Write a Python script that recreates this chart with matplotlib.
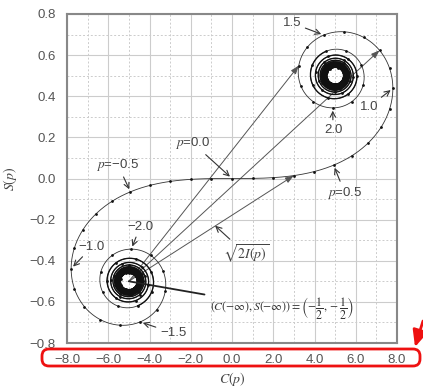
import numpy as np
import matplotlib
matplotlib.use("Agg")
import matplotlib.pyplot as plt
from matplotlib.patches import FancyBboxPatch, FancyArrowPatch
from matplotlib.transforms import IdentityTransform

plt.rcParams['mathtext.fontset'] = 'stix'
plt.rcParams['font.family'] = ['Liberation Sans', 'DejaVu Sans']

# Cornu spiral parameters
p_max = 8.0
p_step = 1e-4
dot_every = 0.1
p_dense = 2.5  # beyond this the turns crowd into the limit points

# points that get a chord from (C(-inf), S(-inf))
chord_p = [0.3, 1.2, 1.7]

# labelled parameter values
label_p = [0.0, -0.5, 0.5, 1.0, 1.5, 2.0, -1.0, -1.5, -2.0]
label_txt = ['$p$=0.0', '$p$=\u22120.5', '$p$=0.5', '1.0', '1.5', '2.0',
             '\u22121.0', '\u22121.5', '\u22122.0']
label_pos = [(-0.19, 0.173), (-0.553, 0.066), (0.548, -0.072), (0.664, 0.348),
             (0.291, 0.756), (0.490, 0.236), (-0.679, -0.333), (-0.286, -0.751),
             (-0.446, -0.236)]

x_ticks = [-0.8, -0.6, -0.4, -0.2, 0.0, 0.2, 0.4, 0.6, 0.8]
x_tick_labels = ['\u22128.0', '\u22126.0', '\u22124.0', '\u22122.0', '0.0',
                 '2.0', '4.0', '6.0', '8.0']
y_ticks = [-0.8, -0.6, -0.4, -0.2, 0.0, 0.2, 0.4, 0.6, 0.8]
y_tick_labels = ['\u22120.8', '\u22120.6', '\u22120.4', '\u22120.2', '0.0',
                 '0.2', '0.4', '0.6', '0.8']


def fresnel_cs(pmax, dp):
    t = np.arange(0, pmax + dp / 2, dp)
    fc = np.cos(np.pi * t ** 2 / 2)
    fs = np.sin(np.pi * t ** 2 / 2)
    c = np.concatenate([[0], np.cumsum((fc[1:] + fc[:-1]) / 2 * dp)])
    s = np.concatenate([[0], np.cumsum((fs[1:] + fs[:-1]) / 2 * dp)])
    return t, c, s


t, c, s = fresnel_cs(p_max, p_step)
p_all = np.concatenate([-t[::-1], t[1:]])
C = np.concatenate([-c[::-1], c[1:]])
S = np.concatenate([-s[::-1], s[1:]])


def cs_at(p):
    i = np.argmin(np.abs(p_all - p))
    return C[i], S[i]


fig = plt.figure(figsize=(4.23, 3.87), dpi=100)
ax = fig.add_axes([67 / 423, 1 - 343 / 387, 330 / 423, 329 / 387])

ax.plot(C, S, color='#333333', lw=0.6, zorder=3)
# tight inner turns drawn a bit heavier
inner = p_all > p_dense
ax.plot(C[inner], S[inner], color='#111111', lw=0.95, zorder=3)
inner = p_all < -p_dense
ax.plot(C[inner], S[inner], color='#111111', lw=0.95, zorder=3)
k = int(round(dot_every / p_step))
ax.plot(C[::k], S[::k], 'o', color='#111111', ms=2.0, mew=0, zorder=4)

# chords sqrt(2 I(p)) from the lower limit point
for pc in chord_p:
    ax.annotate('', xy=cs_at(pc), xytext=(-0.5, -0.5),
                arrowprops=dict(arrowstyle='-|>,head_length=0.5,head_width=0.18',
                                color='#555555', lw=0.7, shrinkA=0, shrinkB=0),
                zorder=2)

for pv, txt, pos in zip(label_p, label_txt, label_pos):
    ax.annotate(txt, xy=cs_at(pv), xytext=pos, ha='center', va='center',
                fontsize=9.5, color='#444444',
                arrowprops=dict(arrowstyle='->,head_length=0.4,head_width=0.2',
                                color='#333333', lw=0.8, shrinkA=1, shrinkB=2),
                zorder=5)

ax.annotate(r'$\sqrt{2I(p)}$', xy=(-0.087, -0.225), xytext=(0.068, -0.367),
            ha='center', va='center', fontsize=10, color='#444444',
            arrowprops=dict(arrowstyle='->,head_length=0.4,head_width=0.2',
                            color='#333333', lw=0.8, shrinkA=1, shrinkB=1))

ax.annotate(r'$(C(-\infty),S(-\infty))=\left(-\dfrac{1}{2},-\dfrac{1}{2}\right)$',
            xy=(-0.5, -0.5), xytext=(0.242, -0.63), ha='center', va='center',
            fontsize=8.5, color='#333333',
            arrowprops=dict(arrowstyle='-', color='#222222', lw=1.3,
                            shrinkA=2, shrinkB=0))

ax.set_xlim(-0.8, 0.8)
ax.set_ylim(-0.8, 0.8)
ax.set_xticks(x_ticks)
ax.set_xticklabels(x_tick_labels)
ax.set_yticks(y_ticks)
ax.set_yticklabels(y_tick_labels)
ax.set_xticks(np.arange(-0.7, 0.8, 0.2), minor=True)
ax.set_yticks(np.arange(-0.7, 0.8, 0.2), minor=True)
ax.tick_params(which='both', length=0, labelsize=9.5, labelcolor='#555555', pad=8)
ax.grid(which='major', color='#cccccc', lw=0.8)
ax.grid(which='minor', color='#cccccc', lw=0.7, ls=(0, (2, 2)))
ax.set_axisbelow(True)
for sp in ax.spines.values():
    sp.set_color('#888888')
    sp.set_linewidth(1.5)

ax.set_xlabel('$C(p)$', fontsize=10, color='#444444', labelpad=3)
ax.set_ylabel('$S(p)$', fontsize=10, color='#444444', labelpad=8)

# red frame around the x tick labels
box = FancyBboxPatch((42, 21), 378, 17, boxstyle='round,pad=0,rounding_size=7',
                     transform=IdentityTransform(), fill=False,
                     edgecolor='#ee1111', lw=2)
fig.add_artist(box)
arr = FancyArrowPatch((423, 66), (415, 40), transform=IdentityTransform(),
                      arrowstyle='-|>,head_length=1.0,head_width=0.45',
                      mutation_scale=10, color='#ee1111', lw=2,
                      shrinkA=0, shrinkB=0)
fig.add_artist(arr)

fig.savefig('out.png', dpi=100)
